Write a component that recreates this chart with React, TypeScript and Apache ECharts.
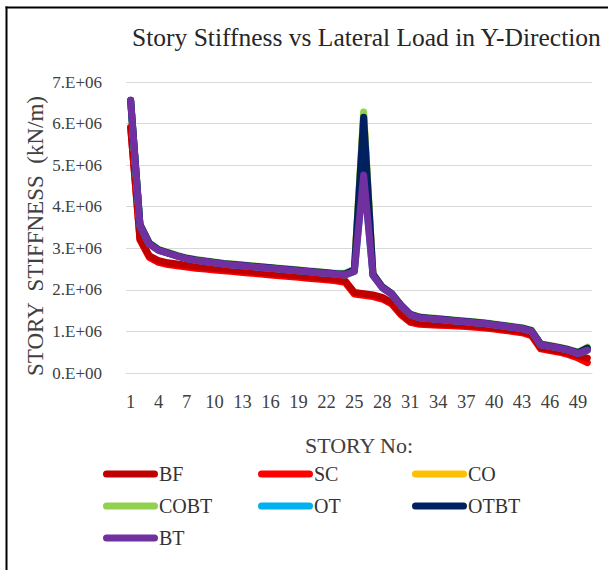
import React, { useEffect, useRef } from "react";
import * as echarts from "echarts";

const stories: string[] = Array.from({ length: 50 }, (_, i) => String(i + 1));

const seriesColors: Record<string, string> = {
  BF: "#C00000",
  SC: "#FF0000",
  CO: "#FFC000",
  COBT: "#92D050",
  OT: "#00B0F0",
  OTBT: "#002060",
  BT: "#7030A0",
};

// values in 1e6 kN/m
const BF = [5.90, 3.22, 2.82, 2.70, 2.65, 2.62, 2.59, 2.56, 2.54, 2.52, 2.50, 2.48, 2.46, 2.44, 2.42, 2.40, 2.38, 2.36, 2.34, 2.32, 2.30, 2.28, 2.26, 2.22, 1.94, 1.91, 1.88, 1.82, 1.70, 1.43, 1.25, 1.20, 1.19, 1.18, 1.17, 1.16, 1.15, 1.13, 1.11, 1.09, 1.06, 1.03, 1.00, 0.93, 0.61, 0.57, 0.53, 0.48, 0.42, 0.36];
const SC = [5.92, 3.20, 2.78, 2.66, 2.61, 2.58, 2.55, 2.52, 2.50, 2.48, 2.46, 2.44, 2.42, 2.40, 2.38, 2.36, 2.34, 2.32, 2.30, 2.28, 2.26, 2.24, 2.22, 2.18, 1.90, 1.87, 1.84, 1.78, 1.66, 1.40, 1.22, 1.17, 1.16, 1.15, 1.14, 1.13, 1.12, 1.10, 1.08, 1.06, 1.03, 1.00, 0.97, 0.90, 0.58, 0.54, 0.50, 0.44, 0.36, 0.25];
const CO = [6.52, 3.56, 3.12, 2.96, 2.89, 2.82, 2.76, 2.72, 2.69, 2.66, 2.63, 2.61, 2.59, 2.57, 2.55, 2.53, 2.51, 2.49, 2.47, 2.45, 2.43, 2.41, 2.39, 2.38, 2.46, 6.20, 2.36, 2.06, 1.91, 1.63, 1.41, 1.34, 1.32, 1.30, 1.28, 1.26, 1.24, 1.22, 1.20, 1.17, 1.14, 1.11, 1.08, 1.02, 0.69, 0.65, 0.61, 0.56, 0.49, 0.58];
const COBT = [6.55, 3.58, 3.13, 2.97, 2.90, 2.83, 2.77, 2.73, 2.70, 2.67, 2.64, 2.62, 2.60, 2.58, 2.56, 2.54, 2.52, 2.50, 2.48, 2.46, 2.44, 2.42, 2.40, 2.40, 2.50, 6.28, 2.38, 2.07, 1.92, 1.64, 1.42, 1.35, 1.33, 1.31, 1.29, 1.27, 1.25, 1.23, 1.21, 1.18, 1.15, 1.12, 1.09, 1.03, 0.70, 0.66, 0.62, 0.57, 0.50, 0.62];
const OT = [6.54, 3.55, 3.10, 2.95, 2.88, 2.81, 2.75, 2.71, 2.68, 2.65, 2.62, 2.60, 2.58, 2.56, 2.54, 2.52, 2.50, 2.48, 2.46, 2.44, 2.42, 2.40, 2.38, 2.36, 2.44, 4.85, 2.35, 2.05, 1.90, 1.62, 1.40, 1.33, 1.31, 1.29, 1.27, 1.25, 1.23, 1.21, 1.19, 1.16, 1.13, 1.10, 1.07, 1.01, 0.68, 0.64, 0.60, 0.55, 0.47, 0.55];
const OTBT = [6.56, 3.57, 3.12, 2.96, 2.89, 2.82, 2.76, 2.72, 2.69, 2.66, 2.63, 2.61, 2.59, 2.57, 2.55, 2.53, 2.51, 2.49, 2.47, 2.45, 2.43, 2.41, 2.39, 2.38, 2.48, 6.15, 2.38, 2.07, 1.91, 1.63, 1.41, 1.34, 1.32, 1.30, 1.28, 1.26, 1.24, 1.22, 1.20, 1.17, 1.14, 1.11, 1.08, 1.02, 0.69, 0.65, 0.61, 0.56, 0.49, 0.60];
const BT = [6.56, 3.55, 3.10, 2.95, 2.88, 2.81, 2.75, 2.71, 2.68, 2.65, 2.62, 2.60, 2.58, 2.56, 2.54, 2.52, 2.50, 2.48, 2.46, 2.44, 2.42, 2.40, 2.38, 2.36, 2.44, 4.76, 2.35, 2.05, 1.90, 1.62, 1.40, 1.33, 1.31, 1.29, 1.27, 1.25, 1.23, 1.21, 1.19, 1.16, 1.13, 1.10, 1.07, 1.01, 0.68, 0.64, 0.60, 0.55, 0.47, 0.55];

const yTicks = ["0.E+00", "1.E+06", "2.E+06", "3.E+06", "4.E+06", "5.E+06", "6.E+06", "7.E+06"];

const titleText = "Story Stiffness vs Lateral Load in Y-Direction";
const yName = "STORY  STIFFNESS  (kN/m)";
const xName = "STORY No:";

const dataByName: Record<string, number[]> = { BF, SC, CO, COBT, OT, OTBT, BT };
// drawing order (later on top)
const drawOrder = ["SC", "BF", "CO", "COBT", "OT", "OTBT", "BT"];

const FONT = "Liberation Serif";
const ICON = "path://M3.5,0 L51.5,0 A3.5,3.5 0 0 1 51.5,7 L3.5,7 A3.5,3.5 0 0 1 3.5,0 Z";

export default function App() {
  const ref = useRef<HTMLDivElement>(null);
  useEffect(() => {
    if (!ref.current) return;
    const chart = echarts.init(ref.current, null, { renderer: "svg" });
    const legendCommon = {
      orient: "vertical" as const,
      top: 464,
      padding: 0,
      itemGap: 12,
      itemWidth: 55,
      itemHeight: 7,
      icon: ICON,
      selectedMode: false,
      textStyle: { fontFamily: FONT, fontSize: 20, color: "#333", padding: [0, 0, 0, -4] },
    };
    chart.setOption({
      animation: false,
      backgroundColor: "#fff",
      title: {
        text: titleText,
        left: 127,
        top: 19,
        textStyle: { fontFamily: FONT, fontSize: 25.5, fontWeight: "normal", color: "#262626" },
      },
      legend: [
        { ...legendCommon, left: 103, data: ["BF", "COBT", "BT"] },
        { ...legendCommon, left: 258, data: ["SC", "OT"] },
        { ...legendCommon, left: 412, data: ["CO", "OTBT"] },
      ],
      grid: { left: 126, right: 16, top: 82, bottom: 197, containLabel: false },
      xAxis: {
        type: "category",
        data: stories,
        boundaryGap: true,
        axisTick: { show: false },
        axisLine: { lineStyle: { color: "#d9d9d9", width: 1 } },
        axisLabel: { interval: 2, fontFamily: FONT, fontSize: 18.5, color: "#404040", margin: 19 },
      },
      yAxis: {
        type: "value",
        min: 0,
        max: 7e6,
        interval: 1e6,
        axisLine: { show: false },
        axisTick: { show: false },
        splitLine: { lineStyle: { color: "#d9d9d9", width: 1 } },
        axisLabel: {
          fontFamily: FONT,
          fontSize: 17,
          color: "#404040",
          margin: 24,
          formatter: (v: number) => yTicks[Math.round(v / 1e6)] ?? "",
        },
      },
      graphic: [
        { type: "line", shape: { x1: 6.5, y1: 6.5, x2: 6.5, y2: 570 }, style: { stroke: "#000", lineWidth: 2 } },
        { type: "line", shape: { x1: 5.5, y1: 7.5, x2: 608, y2: 7.5 }, style: { stroke: "#000", lineWidth: 2 } },
        {
          type: "text",
          x: 35,
          y: 236,
          rotation: Math.PI / 2,
          style: { text: yName, fontFamily: FONT, fontSize: 23, fill: "#404040", textAlign: "center", textVerticalAlign: "middle" },
        },
        {
          type: "text",
          x: 359,
          y: 445,
          style: { text: xName, fontFamily: FONT, fontSize: 22, fill: "#404040", textAlign: "center", textVerticalAlign: "middle" },
        },
      ],
      series: drawOrder.map((name) => ({
        name,
        type: "line",
        data: dataByName[name].map((v) => v * 1e6),
        showSymbol: false,
        symbol: "none",
        lineStyle: { width: 7, color: seriesColors[name], cap: "round", join: "round" },
        itemStyle: { color: seriesColors[name] },
      })),
    });
    return () => chart.dispose();
  }, []);
  return <div ref={ref} style={{ position: "fixed", left: 0, top: 0, width: 608, height: 570 }} />;
}
